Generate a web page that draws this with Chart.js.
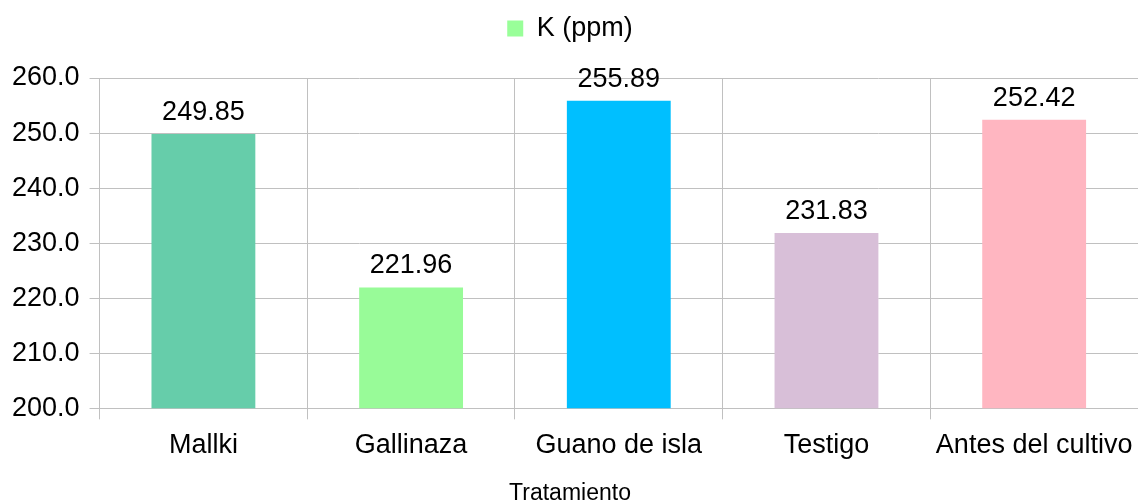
<!DOCTYPE html>
<html>
<head>
<meta charset="utf-8">
<script src="https://cdn.jsdelivr.net/npm/chart.js@4.4.1/dist/chart.umd.min.js"></script>
<style>
html,body{margin:0;padding:0;background:#fff;}
#wrap{width:1138px;height:501px;position:relative;}
</style>
</head>
<body>
<div id="wrap"><canvas id="c"></canvas></div>
<script>
const categories = ['Mallki', 'Gallinaza', 'Guano de isla', 'Testigo', 'Antes del cultivo'];
const kValues = [249.85, 221.96, 255.89, 231.83, 252.42];
const barColors = ['#66CDAA', '#98FB98', '#00BFFF', '#D8BFD8', '#FFB6C1'];
const seriesName = 'K (ppm)';
const legendColor = '#99FF99';
const xTitle = 'Tratamiento';
const yMin = 200, yMax = 260, yStep = 10;

const FONT = "'Liberation Sans', Arial, sans-serif";
const GRID = '#c0c0c0';

const valueLabels = {
  id: 'valueLabels',
  afterDatasetsDraw(chart) {
    const ctx = chart.ctx;
    const meta = chart.getDatasetMeta(0);
    ctx.save();
    ctx.font = '27px ' + FONT;
    ctx.fillStyle = '#000';
    ctx.textAlign = 'center';
    ctx.textBaseline = 'alphabetic';
    meta.data.forEach((bar, i) => {
      ctx.fillText(chart.data.datasets[0].data[i].toFixed(2), bar.x, bar.y - 14);
    });
    ctx.restore();
  }
};

const legendGap = {
  id: 'legendGap',
  beforeLayout(chart) {
    const lg = chart.legend;
    if (lg && !lg._gapPatched) {
      const f = lg.fit;
      lg.fit = function () { f.call(this); this.height += 26; };
      lg._gapPatched = true;
    }
  }
};

new Chart(document.getElementById('c'), {
  type: 'bar',
  data: {
    labels: categories,
    datasets: [{
      label: seriesName,
      data: kValues,
      backgroundColor: barColors,
      borderWidth: 0,
      barPercentage: 0.5,
      categoryPercentage: 1.0
    }]
  },
  options: {
    responsive: true,
    maintainAspectRatio: false,
    animation: false,
    layout: { padding: { top: 5, left: 2, right: 0, bottom: 0 } },
    plugins: {
      legend: {
        position: 'top',
        labels: {
          font: { family: FONT, size: 27 },
          color: '#000',
          boxWidth: 16,
          boxHeight: 16,
          padding: 10,
          generateLabels(chart) {
            return [{
              text: seriesName,
              fillStyle: legendColor,
              strokeStyle: legendColor,
              lineWidth: 0,
              hidden: false,
              datasetIndex: 0
            }];
          }
        }
      },
      title: {
        display: true,
        position: 'bottom',
        text: xTitle,
        color: '#000',
        font: { family: FONT, size: 23, weight: 'normal', lineHeight: 0.6 },
        padding: { top: 16, bottom: 0 }
      },
      tooltip: { enabled: false }
    },
    scales: {
      x: {
        grid: { color: GRID, lineWidth: 1, offset: true, tickLength: 11, drawTicks: true },
        border: { color: GRID },
        ticks: { font: { family: FONT, size: 27, lineHeight: 1.55 }, color: '#000', padding: 5, maxRotation: 0, autoSkip: false }
      },
      y: {
        min: yMin, max: yMax,
        grid: { color: GRID, lineWidth: 1, tickLength: 10 },
        border: { display: false },
        ticks: { stepSize: yStep, font: { family: FONT, size: 27 }, color: '#000', padding: 10,
          callback: v => Number(v).toFixed(1) }
      }
    }
  },
  plugins: [valueLabels, legendGap]
});
</script>
</body>
</html>
